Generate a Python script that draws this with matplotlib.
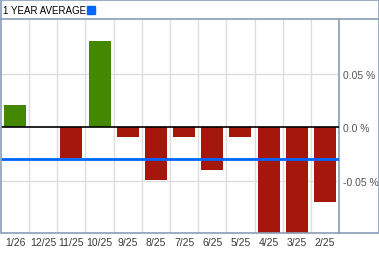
import matplotlib.pyplot as plt
from matplotlib.patches import Rectangle

months = ['1/26', '12/25', '11/25', '10/25', '9/25', '8/25', '7/25', '6/25', '5/25', '4/25', '3/25', '2/25']
changes = [0.0205, 0.0, -0.029, 0.0805, -0.009, -0.049, -0.009, -0.04, -0.009, -0.12, -0.12, -0.07]
average = -0.03
y_ticks = [0.05, 0.0, -0.05]
y_labels = ['0.05 %', '0.0 %', '-0.05 %']

plt.rcParams['font.family'] = ['Liberation Sans', 'DejaVu Sans']

fig = plt.figure(figsize=(3.79, 2.55), dpi=100)
W, H = 379, 255
ax = fig.add_axes([1 / W, (H - 234) / H, 338 / W, 214 / H])

xs = list(range(len(months)))
colors = ['#448800' if v > 0 else '#a5170a' for v in changes]
ax.bar(xs, changes, width=0.78, color=colors, zorder=2)

for i in range(1, len(months)):
    ax.axvline(i - 0.5, color='#dddddd', lw=1, zorder=1)
for t in [0.05, -0.05]:
    ax.axhline(t, color='#dddddd', lw=1, zorder=1)
ax.axhline(0, color='black', lw=1.2, zorder=3)
ax.axhline(average, color='#0066ff', lw=2, zorder=4)

ax.set_xlim(-0.5, len(months) - 0.5)
ax.set_ylim(-0.099, 0.101)
ax.set_xticks(xs)
ax.set_xticklabels(months, fontsize=7.5, color='#3a3a3a')
ax.yaxis.tick_right()
ax.set_yticks(y_ticks)
ax.set_yticklabels(y_labels, fontsize=7.5, color='#555555')
ax.tick_params(length=0, pad=3)
for s in ['top', 'left', 'bottom']:
    ax.spines[s].set_visible(False)
ax.spines['right'].set_color('#8a9db8')
ax.spines['right'].set_linewidth(1.2)

# outer frame and header
frame = '#8a9db8'
fig.add_artist(Rectangle((0.5 / W, (H - 234) / H), 378 / W, 233.5 / H,
                         transform=fig.transFigure, fill=False, ec=frame, lw=1.2))
fig.add_artist(plt.Line2D([0, 1], [(H - 20) / H] * 2, transform=fig.transFigure, color=frame, lw=1.2))
fig.text(3 / W, (H - 11) / H, '1 YEAR AVERAGE', fontsize=7, va='center', ha='left', color='black')
fig.add_artist(Rectangle((87 / W, (H - 15) / H), 8 / W, 8 / H, transform=fig.transFigure,
                         color='#0066ff'))

fig.savefig('out.png', dpi=100)
